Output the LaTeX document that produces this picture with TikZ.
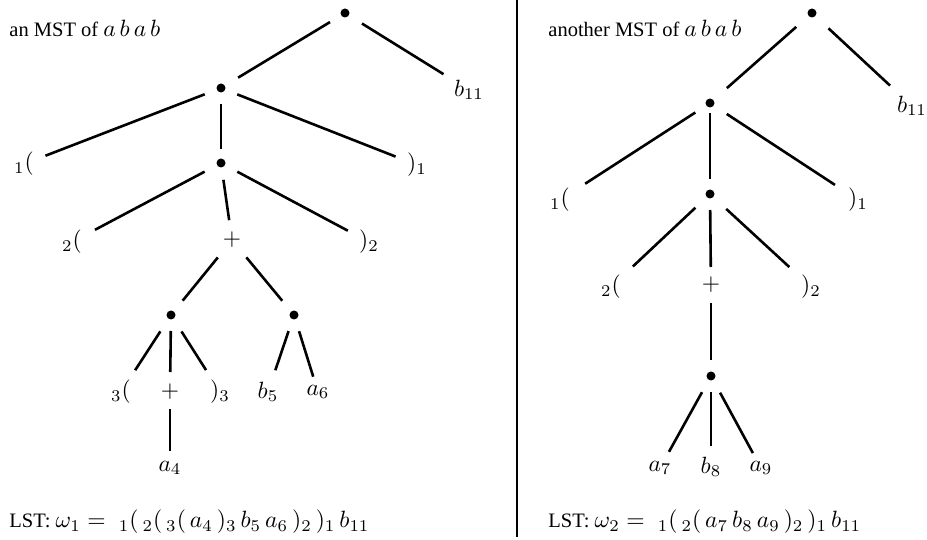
\documentclass[tikz,border=0pt]{standalone}
\usepackage{graphicx}
\usepackage{fontspec}
\setmainfont{Liberation Serif}
\newcommand{\bm}[1]{\scalebox{1.15}{#1}}
\begin{document}
\begin{tikzpicture}[x=1pt,y=-1pt,
  dot/.style={circle,fill=black,inner sep=0pt,minimum size=9pt},
  lbl/.style={inner sep=0pt,scale=2.35},
  txt/.style={inner sep=0pt,anchor=west,scale=2.05},
  edge/.style={line width=2.6pt}]
\useasboundingbox (0,0) rectangle (927,540);
% divider
\coordinate (dtop) at (517,0);
\coordinate (dbot) at (517,537);
\draw[line width=2.6pt] (dtop) -- (dbot);
% ---------- left tree ----------
\node[txt] (t1) at (9,28) {an MST of \bm{$a\,b\,a\,b$}};
\node[dot] (R) at (345,13) {};
\node[lbl] (b11) at (469,90) {$b_{11}$};
\node[dot] (A) at (221,88) {};
\node[lbl] (o1) at (24,164) {${}_1($};
\node[lbl] (c1) at (417,165) {$)_1$};
\node[dot] (B) at (221,163) {};
\node[lbl] (o2) at (72,242) {${}_2($};
\node[lbl] (P1) at (232,240) {$+$};
\node[lbl] (c2) at (369,242) {$)_2$};
\node[dot] (C) at (171,315) {};
\node[dot] (D) at (294,315) {};
\node[lbl] (o3) at (121,392) {${}_3($};
\node[lbl] (P2) at (170,392) {$+$};
\node[lbl] (c3) at (220,392) {$)_3$};
\node[lbl] (b5) at (268,392) {$b_5$};
\node[lbl] (a6) at (318,392) {$a_6$};
\node[lbl] (a4) at (170,468) {$a_4$};
\node[txt] (lst1) at (9,522) {LST: \bm{$\omega_1 =\; {}_1(\,{}_2(\,{}_3(\,a_4\,)_3\,b_5\,a_6\,)_2\,)_1\,b_{11}$}};

\draw[edge,shorten <=17.5pt,shorten >=20pt] (R.center) -- (A.center);
\draw[edge,shorten <=20pt,shorten >=30pt] (R.center) -- (b11.center);
\draw[edge,shorten <=17.5pt,shorten >=23pt] (A.center) -- (o1.center);
\draw[edge,shorten <=16pt,shorten >=14pt] (A.center) -- (B.center);
\draw[edge,shorten <=17.5pt,shorten >=23pt] (A.center) -- (c1.center);
\draw[edge,shorten <=18.5pt,shorten >=26pt] (B.center) -- (o2.center);
\draw[edge,shorten <=17pt,shorten >=20pt] (B.center) -- (P1.center);
\draw[edge,shorten <=18.5pt,shorten >=24pt] (B.center) -- (c2.center);
\draw[edge,shorten <=22.5pt,shorten >=18.5pt] (P1.center) -- (C.center);
\draw[edge,shorten <=22.5pt,shorten >=18.5pt] (P1.center) -- (D.center);
\draw[edge,shorten <=19.5pt,shorten >=26pt] (C.center) -- (o3.center);
\draw[edge,shorten <=16pt,shorten >=20pt] (C.center) -- (P2.center);
\draw[edge,shorten <=19.5pt,shorten >=26pt] (C.center) -- (c3.center);
\draw[edge,shorten <=17pt,shorten >=23pt] (D.center) -- (b5.center);
\draw[edge,shorten <=17pt,shorten >=16pt] (D.center) -- (a6.center);
\draw[edge,shorten <=17pt,shorten >=17pt] (P2.center) -- (a4.center);
% ---------- right tree ----------
\node[txt] (t2) at (548,28) {another MST of \bm{$a\,b\,a\,b$}};
\node[dot] (R2) at (812,13) {};
\node[lbl] (b11r) at (912,106) {$b_{11}$};
\node[dot] (A2) at (710,103) {};
\node[lbl] (o1r) at (560,200) {${}_1($};
\node[lbl] (c1r) at (858,200) {$)_1$};
\node[dot] (B2) at (710,194) {};
\node[lbl] (o2r) at (611,287) {${}_2($};
\node[lbl] (P3) at (711,285) {$+$};
\node[lbl] (c2r) at (811,287) {$)_2$};
\node[dot] (E) at (711,376) {};
\node[lbl] (a7) at (660,468) {$a_7$};
\node[lbl] (b8) at (711,467) {$b_8$};
\node[lbl] (a9) at (761,468) {$a_9$};
\node[txt] (lst2) at (548,522) {LST: \bm{$\omega_2 =\; {}_1(\,{}_2(\,a_7\,b_8\,a_9\,)_2\,)_1\,b_{11}$}};

\draw[edge,shorten <=21pt,shorten >=22.5pt] (R2.center) -- (A2.center);
\draw[edge,shorten <=22.5pt,shorten >=30pt] (R2.center) -- (b11r.center);
\draw[edge,shorten <=17.5pt,shorten >=30pt] (A2.center) -- (o1r.center);
\draw[edge,shorten <=10pt,shorten >=15pt] (A2.center) -- (B2.center);
\draw[edge,shorten <=20pt,shorten >=27.5pt] (A2.center) -- (c1r.center);
\draw[edge,shorten <=20pt,shorten >=30pt] (B2.center) -- (o2r.center);
\draw[edge,shorten <=16pt,shorten >=18pt] (B2.center) -- (P3.center);
\draw[edge,shorten <=22pt,shorten >=29.5pt] (B2.center) -- (c2r.center);
\draw[edge,shorten <=18pt,shorten >=16pt] (P3.center) -- (E.center);
\draw[edge,shorten <=18.5pt,shorten >=18.5pt] (E.center) -- (a7.center);
\draw[edge,shorten <=16pt,shorten >=21pt] (E.center) -- (b8.center);
\draw[edge,shorten <=19pt,shorten >=17pt] (E.center) -- (a9.center);
\end{tikzpicture}
\end{document}
